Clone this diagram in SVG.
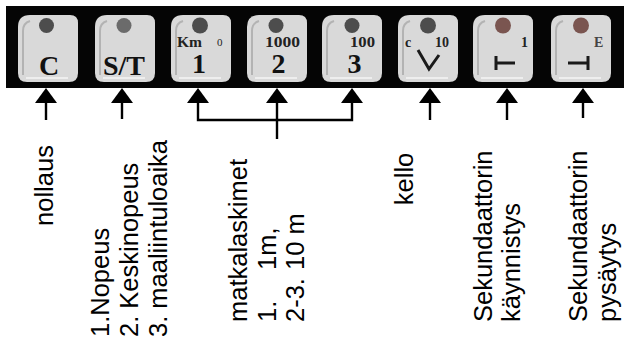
<svg xmlns="http://www.w3.org/2000/svg" width="624" height="339" viewBox="0 0 624 339">
  <style>
    .btn { fill: #d9d9d9; }
    .bevel { fill: none; stroke: #a9a9a9; stroke-width: 2; opacity: 0.8; }
    .hl { fill: none; stroke: #f2f2f2; stroke-width: 2; opacity: 0.8; }
    .led { fill: #4d4d4d; }
    .ledr { fill: #7a5550; }
    .big { font-family: "Liberation Serif", "Times New Roman", serif; font-weight: bold; font-size: 28px; fill: #111; text-anchor: middle; }
    .small { font-family: "Liberation Serif", "Times New Roman", serif; font-weight: bold; font-size: 14px; fill: #222; }
    .sym { fill: none; stroke: #1a1a1a; stroke-width: 3; stroke-linejoin: miter; }
    .conn { fill: none; stroke: #000; stroke-width: 2.4; }
    .head { fill: #000; }
    .lbl { font-family: "Liberation Sans", Arial, Helvetica, sans-serif; font-size: 25.5px; fill: #000; }
  </style>
  <defs>
    <g id="face">
      <path class="btn" d="M12,0 H52 Q60,0 60,8 V58 Q60,67 51,67 H9 Q0,67 0,58 V12 Q0,0 12,0 Z"/>
      <path class="bevel" d="M5,60 V16 Q5,8 12,6"/>
      <path class="hl" d="M8,63 H50"/>
    </g>
  </defs>
  <rect x="6" y="6" width="618" height="82" fill="#050505"/>

  <g id="btn-c">
    <use href="#face" x="18" y="15"/>
    <circle class="led" cx="46.5" cy="25.5" r="7.5"/>
    <text class="big" x="49" y="75">C</text>
  </g>
  <g id="btn-st">
    <use href="#face" x="95" y="15"/>
    <circle cx="124" cy="25.5" r="7.5" fill="#6b6b6b"/>
    <text class="big" x="124" y="75">S/T</text>
  </g>
  <g id="btn-1">
    <use href="#face" x="171" y="15"/>
    <circle class="led" cx="200" cy="25.5" r="8"/>
    <text class="small" x="177" y="47" style="font-size:15.5px">Km</text>
    <text class="small" x="217" y="46" style="font-size:11px;font-weight:normal">0</text>
    <text class="big" x="199" y="73">1</text>
  </g>
  <g id="btn-2">
    <use href="#face" x="247" y="15"/>
    <circle class="led" cx="276" cy="25.5" r="7.5"/>
    <text class="small" x="265" y="47" textLength="35" lengthAdjust="spacingAndGlyphs">1000</text>
    <text class="big" x="278.5" y="73">2</text>
  </g>
  <g id="btn-3">
    <use href="#face" x="322" y="15"/>
    <circle class="led" cx="352" cy="25.5" r="7.5"/>
    <text class="small" x="350" y="47" textLength="25" lengthAdjust="spacingAndGlyphs">100</text>
    <text class="big" x="354.5" y="73">3</text>
  </g>
  <g id="btn-clock">
    <use href="#face" x="398" y="15"/>
    <circle class="led" cx="428" cy="25.5" r="8"/>
    <text class="small" x="405" y="47">c</text>
    <text class="small" x="435" y="47">10</text>
    <path class="sym" d="M418,50 L429,69 L439,55"/>
  </g>
  <g id="btn-start">
    <use href="#face" x="473" y="15"/>
    <circle class="ledr" cx="503" cy="25.5" r="8"/>
    <text class="small" x="521" y="47">1</text>
    <path class="sym" d="M496,56 V70 M496,63 H515"/>
  </g>
  <g id="btn-stop">
    <use href="#face" x="551" y="15"/>
    <circle class="ledr" cx="581" cy="25.5" r="8"/>
    <text class="small" x="594" y="47" style="fill:#444">E</text>
    <path class="sym" d="M568,63 H588 M588,56 V70"/>
  </g>

  <g id="connectors">
    <path class="conn" d="M46,102 V120"/>
    <path class="conn" d="M122,102 V119"/>
    <path class="conn" d="M198,102 V120 H352 V102"/>
    <path class="conn" d="M277,102 V139"/>
    <path class="conn" d="M430,102 V120"/>
    <path class="conn" d="M507,102 V120"/>
    <path class="conn" d="M583,102 V118"/>
    <path class="head" d="M46,88 L57,103 H35 Z"/>
    <path class="head" d="M122,88 L133,103 H111 Z"/>
    <path class="head" d="M198,88 L209,103 H187 Z"/>
    <path class="head" d="M277,88 L288,103 H266 Z"/>
    <path class="head" d="M352,88 L363,103 H341 Z"/>
    <path class="head" d="M430,88 L441,103 H419 Z"/>
    <path class="head" d="M507,88 L518,103 H496 Z"/>
    <path class="head" d="M583,88 L594,103 H572 Z"/>
  </g>

  <g id="labels" transform="rotate(-90)">
    <text id="lbl-nollaus" class="lbl" x="-185.5" y="53" text-anchor="middle">nollaus</text>
    <g id="lbl-nopeus">
      <text class="lbl" x="-337" y="108.5">1.Nopeus</text>
      <text class="lbl" x="-337" y="137.5">2. Keskinopeus</text>
      <text class="lbl" x="-337" y="166.5">3. maaliintuloaika</text>
    </g>
    <g id="lbl-matka">
      <text class="lbl" x="-322" y="247">matkalaskimet</text>
      <text class="lbl" y="275.5"><tspan x="-322">1.</tspan><tspan x="-270">1m,</tspan></text>
      <text class="lbl" y="303.5"><tspan x="-322">2-3.</tspan><tspan x="-270">10 m</tspan></text>
    </g>
    <text id="lbl-kello" class="lbl" x="-179" y="413" text-anchor="middle">kello</text>
    <g id="lbl-start">
      <text class="lbl" x="-322" y="492">Sekundaattorin</text>
      <text class="lbl" x="-322" y="520">käynnistys</text>
    </g>
    <g id="lbl-stop">
      <text class="lbl" x="-322" y="587">Sekundaattorin</text>
      <text class="lbl" x="-322" y="615.5">pysäytys</text>
    </g>
  </g>
</svg>
